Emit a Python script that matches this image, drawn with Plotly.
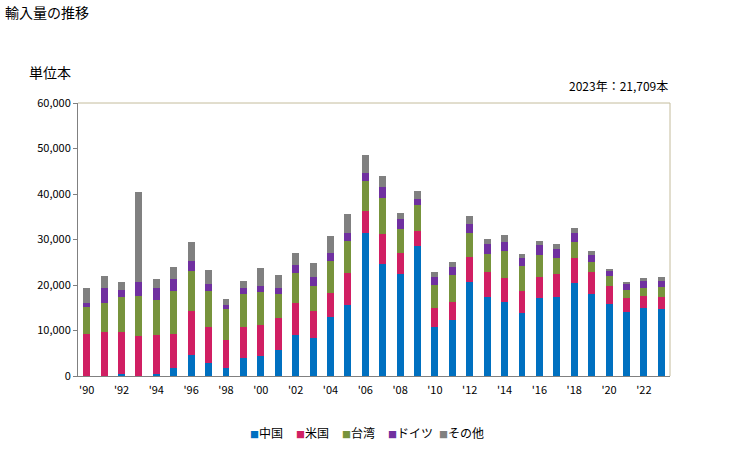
import plotly.graph_objects as go

years = list(range(1990, 2024))
tick_labels = ["'90", "'92", "'94", "'96", "'98", "'00", "'02", "'04", "'06", "'08",
               "'10", "'12", "'14", "'16", "'18", "'20", "'22"]
tick_years = list(range(1990, 2024, 2))

china = [0, 0, 440, 0, 440, 1760, 4620, 2860, 1830, 4030, 4470, 5790,
         9020, 8430, 12980, 15620, 31460, 24710, 22510, 28670, 10780, 12390,
         20750, 17380, 16350, 13860, 17230, 17380, 20460, 18110, 15910, 14150,
         15030, 14740]
usa = [9240, 9680, 9240, 8800, 8580, 7480, 9680, 7920, 6090, 6750, 6750, 6970,
       7040, 5870, 5280, 7040, 4840, 6530, 4550, 3230, 4180, 3890,
       5430, 5500, 5210, 4840, 4550, 5060, 5500, 4770, 3890, 3010,
       2570, 2640]
taiwan = [5940, 6380, 7700, 8800, 7700, 9460, 8800, 7920, 6820, 7260, 7260, 5280,
          6600, 5500, 7040, 7040, 6600, 7920, 5280, 5720, 5060, 5940,
          5280, 3960, 5940, 5500, 4840, 3520, 3520, 2200, 2200, 1760,
          1760, 2200]
germany = [880, 3300, 1540, 3080, 2640, 2640, 2200, 1540, 880, 1320, 1320, 1320,
           1760, 1980, 1760, 1760, 1760, 2420, 2200, 1320, 1760, 1760,
           1980, 2200, 1980, 1760, 2200, 1980, 1980, 1540, 1100, 1320,
           1540, 1320]
others = [3300, 2640, 1760, 19800, 1980, 2640, 4180, 3080, 1320, 1540, 3960, 2860,
          2640, 3080, 3740, 4180, 3960, 2420, 1320, 1760, 1100, 1100,
          1760, 1100, 1540, 880, 880, 1100, 1100, 880, 440, 440,
          660, 809]

series_names = ["中国", "米国", "台湾", "ドイツ", "その他"]
series_values = [china, usa, taiwan, germany, others]
series_colors = ["#0070c0", "#d01f63", "#77933c", "#7030a0", "#808080"]

font_family = "Noto Sans CJK JP, Noto Sans, sans-serif"

fig = go.Figure()
for name, vals, color in zip(series_names, series_values, series_colors):
    fig.add_trace(go.Bar(x=years, y=vals, name=name, marker_color=color,
                         marker_line_width=0, showlegend=False))

# plot area in pixels: left 78, right 670, top 103, bottom 376
PL, PR, PT, PB = 78, 670, 103, 376
PW, PH = PR - PL, PB - PT


def px_x(px):
    return (px - PL) / PW


def px_y(py):
    return (PB - py) / PH


annotations = [
    dict(text="輸入量の推移", xref="paper", yref="paper", x=px_x(3), y=px_y(12),
         xanchor="left", yanchor="middle", showarrow=False, font=dict(size=14)),
    dict(text="単位本", xref="paper", yref="paper", x=px_x(27), y=px_y(72),
         xanchor="left", yanchor="middle", showarrow=False, font=dict(size=14)),
    dict(text="2023年：21,709本", xref="paper", yref="paper", x=1.0, y=px_y(85),
         xanchor="right", yanchor="middle", showarrow=False, font=dict(size=12)),
]

legend_left_px = [248, 294, 340, 386, 437]
for name, color, lx in zip(series_names, series_colors, legend_left_px):
    annotations.append(dict(
        text=f"<span style='color:{color};font-size:9px'>■</span>{name}",
        xref="paper", yref="paper", x=px_x(lx), y=px_y(432),
        xanchor="left", yanchor="middle", showarrow=False, font=dict(size=12)))

fig.update_layout(
    width=729, height=450,
    barmode="stack",
    bargap=0.6,
    plot_bgcolor="white",
    paper_bgcolor="white",
    margin=dict(l=PL, r=729 - PR, t=PT, b=450 - PB),
    font=dict(family=font_family, size=11, color="#000000"),
    showlegend=False,
    xaxis=dict(range=[1989.5, 2023.5], tickvals=tick_years, ticktext=tick_labels,
               showgrid=False, showline=True, linecolor="#808080", linewidth=1,
               ticks="", ticklabelstandoff=4, tickfont=dict(size=11),
               zeroline=False, fixedrange=True),
    yaxis=dict(range=[0, 60000], dtick=10000, tickformat=",", showgrid=False,
               showline=True, linecolor="#808080", linewidth=1, ticks="outside",
               ticklen=4, tickcolor="#808080", tickfont=dict(size=11),
               zeroline=False),
    shapes=[
        dict(type="line", xref="paper", yref="paper", x0=0, x1=1, y0=1, y1=1,
             line=dict(color="#c4bc9c", width=1)),
        dict(type="line", xref="paper", yref="paper", x0=1, x1=1, y0=0, y1=1,
             line=dict(color="#c4bc9c", width=1)),
    ],
    annotations=annotations,
)

fig.write_html("out.html",
               config={"displayModeBar": False},
               post_script="document.body.style.margin='0';document.body.style.overflow='hidden';")
